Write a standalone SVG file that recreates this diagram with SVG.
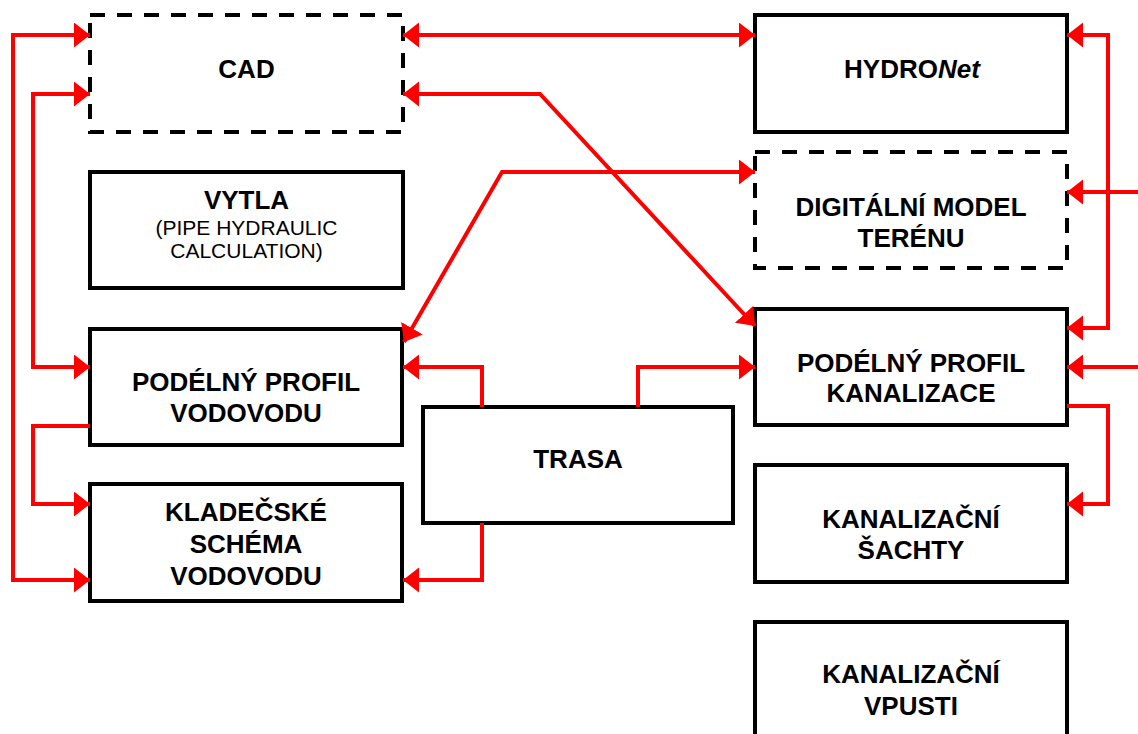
<svg xmlns="http://www.w3.org/2000/svg" width="1138" height="734" viewBox="0 0 1138 734">
<style>
.box{fill:#fff;stroke:#000;stroke-width:4}
.dash{fill:#fff;stroke:#000;stroke-width:4;stroke-dasharray:15 12}
.t{font-family:"Liberation Sans",Arial,sans-serif;font-weight:bold;font-size:26px;text-anchor:middle;fill:#000}
.s{font-family:"Liberation Sans",Arial,sans-serif;font-size:21px;text-anchor:middle;fill:#000}
.c{fill:none;stroke:#f00;stroke-width:4}
.b{marker-start:url(#ah);marker-end:url(#ah)}
.e{marker-end:url(#ah)}
</style>
<defs>
<marker id="ah" markerUnits="userSpaceOnUse" markerWidth="17" markerHeight="26" refX="16" refY="12.5" orient="auto-start-reverse" viewBox="0 0 17 26">
<path d="M0,0 L16,12.5 L0,25 Z" fill="#f00"/>
</marker>
</defs>
<g id="cad"><rect class="dash" x="90" y="15" width="313" height="117"/><text class="t" x="246.5" y="78">CAD</text></g>
<g id="hydronet"><rect class="box" x="755" y="15" width="312" height="117"/><text class="t" x="912" y="78">HYDRO<tspan font-style="italic">Net</tspan></text></g>
<g id="vytla"><rect class="box" x="90" y="172" width="313" height="116"/><text class="t" x="246.5" y="209">VYTLA</text><text class="s" x="246.5" y="235">(PIPE HYDRAULIC</text><text class="s" x="246.5" y="258">CALCULATION)</text></g>
<g id="dmt"><rect class="dash" x="755" y="152" width="312" height="116"/><text class="t" x="911" y="216">DIGITÁLNÍ MODEL</text><text class="t" x="911" y="247">TERÉNU</text></g>
<g id="ppv"><rect class="box" x="90" y="329" width="312" height="116"/><text class="t" x="246" y="391">PODÉLNÝ PROFIL</text><text class="t" x="246" y="422">VODOVODU</text></g>
<g id="ksv"><rect class="box" x="90" y="484" width="312" height="117"/><text class="t" x="246" y="521">KLADEČSKÉ</text><text class="t" x="246" y="553">SCHÉMA</text><text class="t" x="246" y="585">VODOVODU</text></g>
<g id="trasa"><rect class="box" x="423" y="407" width="310" height="116"/><text class="t" x="578" y="468">TRASA</text></g>
<g id="ppk"><rect class="box" x="755" y="309" width="312" height="116"/><text class="t" x="911" y="372">PODÉLNÝ PROFIL</text><text class="t" x="911" y="402">KANALIZACE</text></g>
<g id="sachty"><rect class="box" x="755" y="465" width="312" height="117"/><text class="t" x="911" y="528">KANALIZAČNÍ</text><text class="t" x="911" y="559">ŠACHTY</text></g>
<g id="vpusti"><rect class="box" x="755" y="622" width="312" height="120"/><text class="t" x="911" y="683">KANALIZAČNÍ</text><text class="t" x="911" y="715">VPUSTI</text></g>
<g id="connectors">
<path class="c b" d="M90,35 H13 V580 H90"/>
<path class="c b" d="M90,94 H33 V367 H90"/>
<path class="c e" d="M90,426 H33 V504 H90"/>
<path class="c b" d="M403,35 H755"/>
<path class="c b" d="M403,94 H540 L755,326"/>
<path class="c b" d="M755,172 H502 L404,342"/>
<path class="c e" d="M482,407 V367 H403"/>
<path class="c e" d="M638,407 V367 H755"/>
<path class="c e" d="M482,523 V580 H403"/>
<path class="c b" d="M1067,35 H1108 V328 H1067"/>
<path class="c e" d="M1138,192 H1067"/>
<path class="c e" d="M1138,367 H1067"/>
<path class="c e" d="M1067,406 H1108 V504 H1067"/>
</g>
</svg>
